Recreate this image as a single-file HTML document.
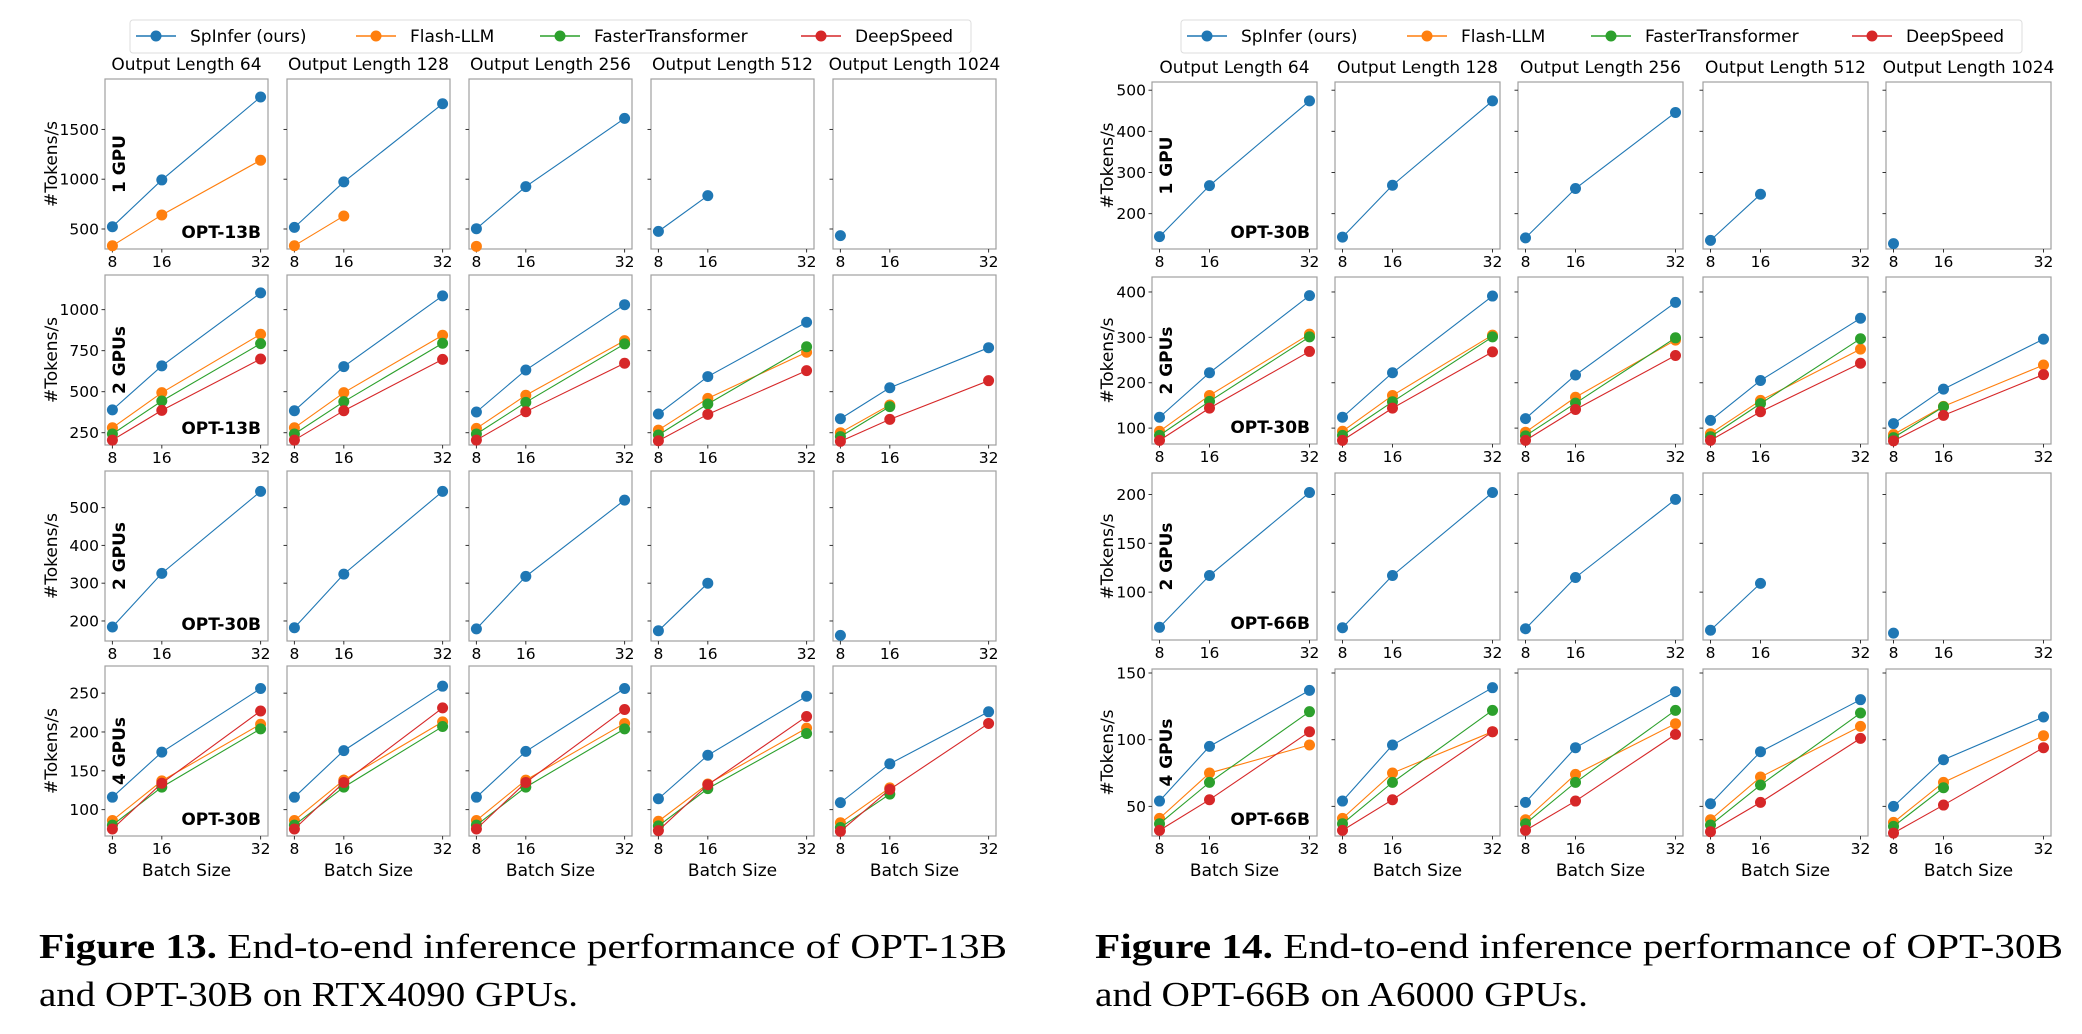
<!DOCTYPE html>
<html><head><meta charset="utf-8">
<style>
html,body{margin:0;padding:0;background:#fff;}
svg{display:block;font-family:"DejaVu Sans","Liberation Sans",sans-serif;}
</style></head>
<body>
<svg id="fig" width="2082" height="1034" viewBox="0 0 2082 1034" xmlns="http://www.w3.org/2000/svg">
<rect width="2082" height="1034" fill="#fff"/>
<g id="f13-legend">
<rect x="130" y="20" width="841" height="33" rx="3" fill="#fff" stroke="#ddd"/>
</g>
<g id="f14-legend">
<rect x="1181" y="20" width="841" height="33" rx="3" fill="#fff" stroke="#ddd"/>
</g>
<text x="39" y="958" font-family="Liberation Serif, serif" font-size="35" textLength="968" lengthAdjust="spacingAndGlyphs"><tspan font-weight="bold">Figure 13.</tspan> End-to-end inference performance of OPT-13B</text>
<text x="39" y="1006" font-family="Liberation Serif, serif" font-size="35" textLength="539" lengthAdjust="spacingAndGlyphs">and OPT-30B on RTX4090 GPUs.</text>
<text x="1095" y="958" font-family="Liberation Serif, serif" font-size="35" textLength="968" lengthAdjust="spacingAndGlyphs"><tspan font-weight="bold">Figure 14.</tspan> End-to-end inference performance of OPT-30B</text>
<text x="1095" y="1006" font-family="Liberation Serif, serif" font-size="35" textLength="493" lengthAdjust="spacingAndGlyphs">and OPT-66B on A6000 GPUs.</text>
</svg>
<script>
const batchSizes = [8, 16, 32];
const seriesNames = ["SpInfer (ours)", "Flash-LLM", "FasterTransformer", "DeepSpeed"];
const columnTitles = ["Output Length 64", "Output Length 128", "Output Length 256", "Output Length 512", "Output Length 1024"];
const gpuLabels = ["1 GPU", "2 GPUs", "2 GPUs", "4 GPUs"];
const f13Models = ["OPT-13B", "OPT-13B", "OPT-30B", "OPT-30B"];
const f14Models = ["OPT-30B", "OPT-30B", "OPT-66B", "OPT-66B"];

// Figure 13 (RTX4090)
const f13r1Ticks = [500, 1000, 1500];
const f13r1Range = [299, 2007];
const f13r1SpInfer = [[523, 993, 1826], [516, 973, 1758], [503, 926, 1611], [476, 835], [433]];
const f13r1Flash = [[332, 641, 1191], [332, 631], [326], [], []];
const f13r1Faster = [[], [], [], [], []];
const f13r1Deep = [[], [], [], [], []];

const f13r2Ticks = [250, 500, 750, 1000];
const f13r2Range = [175, 1211];
const f13r2SpInfer = [[389, 657, 1102], [384, 653, 1084], [376, 632, 1030], [364, 592, 923], [335, 524, 768]];
const f13r2Flash = [[280, 494, 850], [280, 494, 844], [276, 478, 811], [266, 459, 740], [250, 419]];
const f13r2Faster = [[242, 443, 793], [242, 439, 795], [242, 435, 791], [236, 425, 774], [226, 409]];
const f13r2Deep = [[205, 386, 699], [205, 384, 697], [205, 378, 673], [201, 362, 628], [197, 331, 567]];

const f13r3Ticks = [200, 300, 400, 500];
const f13r3Range = [147, 597];
const f13r3SpInfer = [[184, 326, 543], [182, 324, 543], [179, 318, 520], [174, 300], [162]];
const f13r3Flash = [[], [], [], [], []];
const f13r3Faster = [[], [], [], [], []];
const f13r3Deep = [[], [], [], [], []];

const f13r4Ticks = [100, 150, 200, 250];
const f13r4Range = [66, 285];
const f13r4SpInfer = [[116, 174, 256], [116, 176, 259], [116, 175, 256], [114, 170, 246], [109, 159, 226]];
const f13r4Flash = [[86, 137, 210], [86, 138, 213], [86, 138, 211], [85, 133, 205], [83, 128]];
const f13r4Faster = [[80, 129, 204], [80, 129, 207], [80, 129, 204], [79, 127, 198], [77, 120]];
const f13r4Deep = [[75, 134, 227], [75, 135, 231], [75, 135, 229], [73, 132, 220], [72, 126, 211]];

// Figure 14 (A6000)
const f14r1Ticks = [200, 300, 400, 500];
const f14r1Range = [114, 520];
const f14r1SpInfer = [[144, 268, 474], [143, 269, 474], [141, 261, 446], [135, 247], [127]];
const f14r1Flash = [[], [], [], [], []];
const f14r1Faster = [[], [], [], [], []];
const f14r1Deep = [[], [], [], [], []];

const f14r2Ticks = [100, 200, 300, 400];
const f14r2Range = [65, 433];
const f14r2SpInfer = [[124, 222, 392], [124, 222, 391], [121, 217, 377], [117, 205, 342], [110, 186, 296]];
const f14r2Flash = [[93, 172, 307], [93, 172, 305], [91, 168, 294], [88, 161, 274], [86, 148, 239]];
const f14r2Faster = [[84, 159, 301], [84, 158, 301], [83, 155, 299], [81, 154, 297], [79, 147]];
const f14r2Deep = [[73, 144, 269], [73, 144, 268], [73, 141, 260], [73, 136, 243], [72, 128, 218]];

const f14r3Ticks = [100, 150, 200];
const f14r3Range = [51, 222];
const f14r3SpInfer = [[64, 117, 202], [63.5, 117, 202], [62.5, 115, 195], [61, 109], [58]];
const f14r3Flash = [[], [], [], [], []];
const f14r3Faster = [[], [], [], [], []];
const f14r3Deep = [[], [], [], [], []];

const f14r4Ticks = [50, 100, 150];
const f14r4Range = [27.8, 153];
const f14r4SpInfer = [[54, 95, 137], [54, 96, 139], [53, 94, 136], [52, 91, 130], [50, 85, 117]];
const f14r4Flash = [[41, 75, 96], [41, 75, 106], [40, 74, 112], [40, 72, 110], [38, 68, 103]];
const f14r4Faster = [[37, 68, 121], [37, 68, 122], [37, 68, 122], [36, 66, 120], [35, 64]];
const f14r4Deep = [[32, 55, 106], [32, 55, 106], [32, 54, 104], [31, 53, 101], [30, 51, 94]];

const COLORS = ["#1f77b4", "#ff7f0e", "#2ca02c", "#d62728"];
const NS = "http://www.w3.org/2000/svg";
const svg = document.getElementById("fig");

function mk(tag, attrs, parent) {
  const e = document.createElementNS(NS, tag);
  for (const k in attrs) e.setAttribute(k, attrs[k]);
  (parent || svg).appendChild(e);
  return e;
}

function legend(gid, x0) {
  const g = document.getElementById(gid);
  const lineX = [x0, x0 + 220, x0 + 404, x0 + 665];
  seriesNames.forEach((n, i) => {
    const it = mk("g", {}, g);
    
    
    mk("line", {x1: lineX[i], x2: lineX[i] + 40, y1: 36, y2: 36, stroke: COLORS[i], "stroke-width": 1.5}, it);
    mk("circle", {cx: lineX[i] + 20, cy: 36, r: 5.5, fill: COLORS[i]}, it);
    const t = mk("text", {x: lineX[i] + 54, y: 42, "font-size": 17, fill: "#000"}, it);
    t.textContent = n;
  });
}
legend("f13-legend", 136);
legend("f14-legend", 1187);

function drawFigure(prefix, colX, rowY, w, h, rows, models, ylabelX) {
  rows.forEach((row, r) => {
    const y0 = rowY[r], y1 = y0 + h;
    const [lo, hi] = row.range;
    const ys = v => y1 - (v - lo) / (hi - lo) * h;
    const yl = mk("text", {x: ylabelX, y: y0 + h / 2, "font-size": 17, "text-anchor": "middle", "dominant-baseline": "middle", transform: `rotate(-90 ${ylabelX} ${y0 + h / 2})`});
    
    
    yl.textContent = "#Tokens/s";
    colX.forEach((x0, c) => {
      const xs = b => x0 + (b - 6.8) / (33.2 - 6.8) * w;
      const g = mk("g", {});
      
      
      mk("rect", {x: x0, y: y0, width: w, height: h, fill: "#fff", stroke: "#a0a0a0", "stroke-width": 1.2}, g);
      if (r === 0) {
        const t = mk("text", {x: x0 + w / 2, y: y0 - 9, "font-size": 17, "text-anchor": "middle"}, g);
        
        
        t.textContent = columnTitles[c];
      }
      row.ticks.forEach(v => {
        mk("line", {x1: x0 - 3.5, x2: x0, y1: ys(v), y2: ys(v), stroke: "#333", "stroke-width": 1}, g);
        if (c === 0) {
          const t = mk("text", {x: x0 - 6, y: ys(v) + 5.5, "font-size": 15.5, "text-anchor": "end"}, g);
          
          
          t.textContent = v;
        }
      });
      batchSizes.forEach(b => {
        mk("line", {x1: xs(b), x2: xs(b), y1: y1, y2: y1 + 3.5, stroke: "#333", "stroke-width": 1}, g);
        const t = mk("text", {x: xs(b), y: y1 + 18, "font-size": 15.5, "text-anchor": "middle"}, g);
        
        
        t.textContent = b;
      });
      if (r === rows.length - 1) {
        const t = mk("text", {x: x0 + w / 2, y: y1 + 40, "font-size": 17, "text-anchor": "middle"}, g);
        
        
        t.textContent = "Batch Size";
      }
      row.series.forEach((ser, si) => {
        const vals = ser[c];
        if (!vals.length) return;
        const pts = vals.map((v, i) => xs(batchSizes[i]) + "," + ys(v)).join(" ");
        const ln = mk("polyline", {points: pts, fill: "none", stroke: COLORS[si], "stroke-width": 1.1}, g);
        
        
        vals.forEach((v, i) => {
          const p = mk("circle", {cx: xs(batchSizes[i]), cy: ys(v), r: 5.5, fill: COLORS[si]}, g);
          
          
        });
      });
      if (c === 0) {
        const gx = x0 + 15, gy = y0 + h / 2;
        const t = mk("text", {x: gx, y: gy, "font-size": 17, "font-weight": "bold", "text-anchor": "middle", "dominant-baseline": "middle", transform: `rotate(-90 ${gx} ${gy})`}, g);
        
        
        t.textContent = gpuLabels[r];
        const m = mk("text", {x: x0 + w - 7, y: y1 - 11, "font-size": 17, "font-weight": "bold", "text-anchor": "end"}, g);
        
        
        m.textContent = models[r];
      }
    });
  });
}

drawFigure("fig13", [105, 287, 469, 651, 833], [79, 275, 471, 666], 163, 170, [
  {ticks: f13r1Ticks, range: f13r1Range, series: [f13r1SpInfer, f13r1Flash, f13r1Faster, f13r1Deep]},
  {ticks: f13r2Ticks, range: f13r2Range, series: [f13r2SpInfer, f13r2Flash, f13r2Faster, f13r2Deep]},
  {ticks: f13r3Ticks, range: f13r3Range, series: [f13r3SpInfer, f13r3Flash, f13r3Faster, f13r3Deep]},
  {ticks: f13r4Ticks, range: f13r4Range, series: [f13r4SpInfer, f13r4Flash, f13r4Faster, f13r4Deep]}
], f13Models, 52);

drawFigure("fig14", [1152, 1335, 1518, 1703, 1886], [82, 277, 473, 669], 165, 167, [
  {ticks: f14r1Ticks, range: f14r1Range, series: [f14r1SpInfer, f14r1Flash, f14r1Faster, f14r1Deep]},
  {ticks: f14r2Ticks, range: f14r2Range, series: [f14r2SpInfer, f14r2Flash, f14r2Faster, f14r2Deep]},
  {ticks: f14r3Ticks, range: f14r3Range, series: [f14r3SpInfer, f14r3Flash, f14r3Faster, f14r3Deep]},
  {ticks: f14r4Ticks, range: f14r4Range, series: [f14r4SpInfer, f14r4Flash, f14r4Faster, f14r4Deep]}
], f14Models, 1108);
</script>
</body></html>
